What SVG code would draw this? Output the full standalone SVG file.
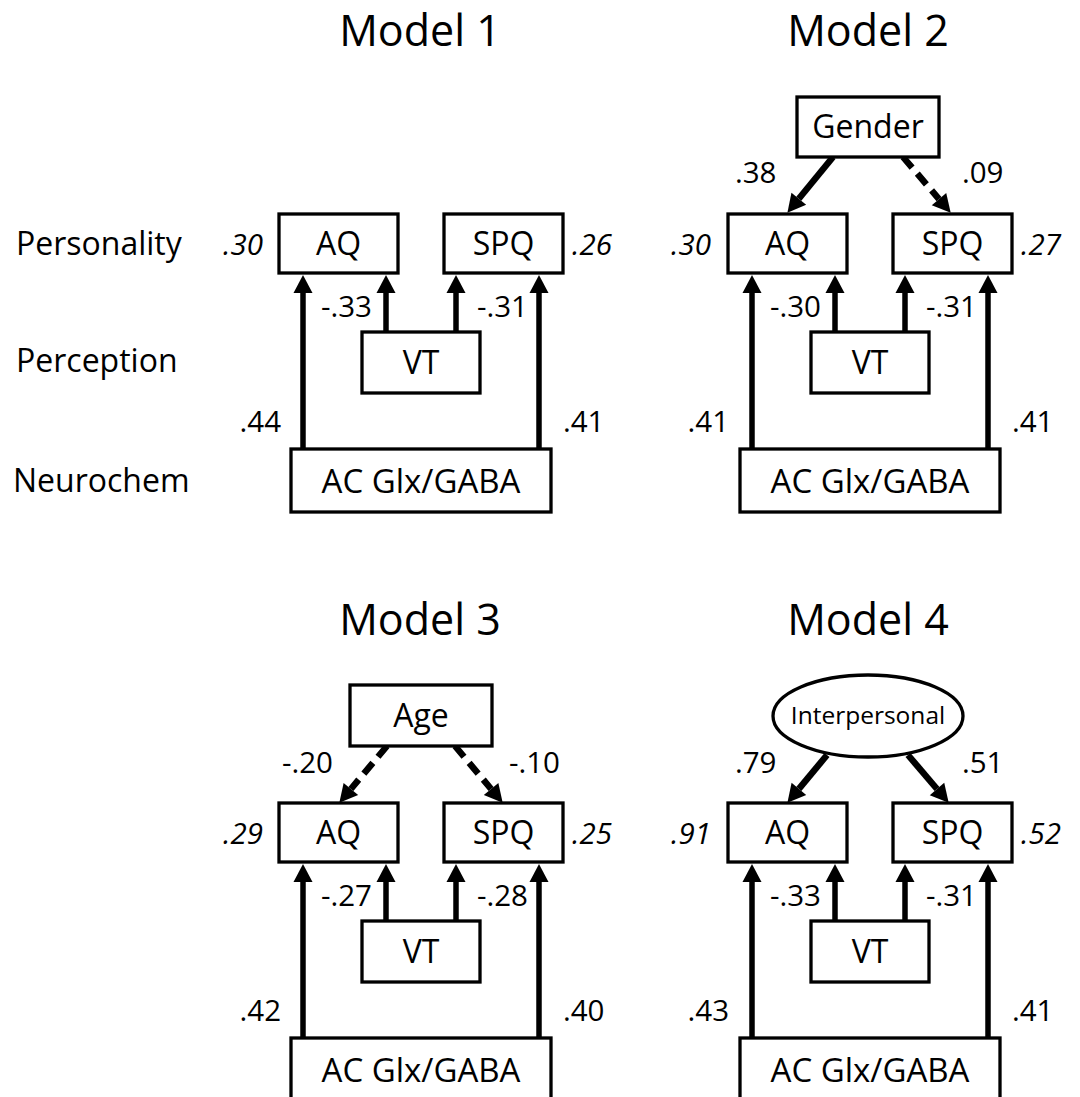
<svg xmlns="http://www.w3.org/2000/svg" width="1080" height="1097" viewBox="0 0 1080 1097">
<defs>
<style>
text{font-family:"Open Sans","Noto Sans","Liberation Sans",sans-serif;fill:#000;}
.t{font-size:43px;text-anchor:middle;}
.lab{font-size:32px;text-anchor:middle;}
.ac{font-size:33px;}
.row{font-size:32px;}
.n{font-size:29.5px;}
.r2{font-size:29.5px;font-style:italic;}
.box{fill:#fff;stroke:#000;stroke-width:3.3;}
.ar{stroke:#000;stroke-width:5.5;fill:none;marker-end:url(#ah);}
.dg{stroke-width:6.5;}
.da{stroke-dasharray:14,8;}
</style>
<marker id="ah" markerUnits="userSpaceOnUse" markerWidth="18" markerHeight="19" refX="0" refY="9.5" orient="auto" overflow="visible">
<path d="M0,0 L18,9.5 L0,19 z" fill="#000"/>
</marker>
</defs>
<rect width="1080" height="1097" fill="#fff"/>

<!-- titles and row labels -->
<text class="t" x="420" y="46">Model 1</text>
<text class="t" x="868" y="46">Model 2</text>
<text class="t" x="420" y="635">Model 3</text>
<text class="t" x="868" y="635">Model 4</text>
<text class="row" x="16" y="255">Personality</text>
<text class="row" x="16" y="372">Perception</text>
<text class="row" x="13" y="492">Neurochem</text>

<!-- connectors -->
<g id="connectors">
<!-- Model 1 -->
<line class="ar" x1="303" y1="449" x2="303" y2="293"/>
<line class="ar" x1="386" y1="332" x2="386" y2="293"/>
<line class="ar" x1="456" y1="332" x2="456" y2="293"/>
<line class="ar" x1="539" y1="449" x2="539" y2="293"/>
<!-- Model 2 -->
<line class="ar" x1="752" y1="449" x2="752" y2="293"/>
<line class="ar" x1="835" y1="332" x2="835" y2="293"/>
<line class="ar" x1="905" y1="332" x2="905" y2="293"/>
<line class="ar" x1="988" y1="449" x2="988" y2="293"/>
<line class="ar dg" x1="833" y1="157" x2="798.8" y2="198.8"/>
<line class="ar dg da" x1="903" y1="157" x2="939" y2="199.1"/>
<!-- Model 3 -->
<line class="ar" x1="303" y1="1038" x2="303" y2="882"/>
<line class="ar" x1="386" y1="921" x2="386" y2="882"/>
<line class="ar" x1="456" y1="921" x2="456" y2="882"/>
<line class="ar" x1="539" y1="1038" x2="539" y2="882"/>
<line class="ar dg da" x1="387" y1="746" x2="350.9" y2="789"/>
<line class="ar dg da" x1="455" y1="746" x2="491.1" y2="789"/>
<!-- Model 4 -->
<line class="ar" x1="752" y1="1038" x2="752" y2="882"/>
<line class="ar" x1="835" y1="921" x2="835" y2="882"/>
<line class="ar" x1="905" y1="921" x2="905" y2="882"/>
<line class="ar" x1="988" y1="1038" x2="988" y2="882"/>
<line class="ar dg" x1="827" y1="755" x2="798.9" y2="788.9"/>
<line class="ar dg" x1="908" y1="755" x2="937" y2="789"/>
</g>

<!-- Model 1 nodes -->
<g id="m1-aq"><rect class="box" x="279" y="214" width="119" height="59"/><text class="lab" x="338.5" y="255">AQ</text></g>
<g id="m1-spq"><rect class="box" x="444" y="214" width="119" height="59"/><text class="lab" x="503.5" y="255">SPQ</text></g>
<g id="m1-vt"><rect class="box" x="362" y="332" width="118" height="61"/><text class="lab" x="421" y="374">VT</text></g>
<g id="m1-ac"><rect class="box" x="291" y="449" width="260" height="63"/><text class="lab ac" x="421" y="493">AC Glx/GABA</text></g>

<!-- Model 2 nodes -->
<g id="m2-gender"><rect class="box" x="797" y="97" width="142" height="60"/><text class="lab" x="868" y="138">Gender</text></g>
<g id="m2-aq"><rect class="box" x="728" y="214" width="119" height="59"/><text class="lab" x="787.5" y="255">AQ</text></g>
<g id="m2-spq"><rect class="box" x="893" y="214" width="119" height="59"/><text class="lab" x="952.5" y="255">SPQ</text></g>
<g id="m2-vt"><rect class="box" x="811" y="332" width="118" height="61"/><text class="lab" x="870" y="374">VT</text></g>
<g id="m2-ac"><rect class="box" x="740" y="449" width="260" height="63"/><text class="lab ac" x="870" y="493">AC Glx/GABA</text></g>

<!-- Model 3 nodes -->
<g id="m3-age"><rect class="box" x="350" y="685" width="142" height="61"/><text class="lab" x="421" y="727">Age</text></g>
<g id="m3-aq"><rect class="box" x="279" y="803" width="119" height="59"/><text class="lab" x="338.5" y="844">AQ</text></g>
<g id="m3-spq"><rect class="box" x="444" y="803" width="119" height="59"/><text class="lab" x="503.5" y="844">SPQ</text></g>
<g id="m3-vt"><rect class="box" x="362" y="921" width="118" height="61"/><text class="lab" x="421" y="963">VT</text></g>
<g id="m3-ac"><rect class="box" x="291" y="1038" width="260" height="63"/><text class="lab ac" x="421" y="1082">AC Glx/GABA</text></g>

<!-- Model 4 nodes -->
<g id="m4-interpersonal"><ellipse cx="868" cy="716" rx="95" ry="41" fill="#fff" stroke="#000" stroke-width="3.3"/><text x="868" y="724" style="font-size:24.5px;text-anchor:middle">Interpersonal</text></g>
<g id="m4-aq"><rect class="box" x="728" y="803" width="119" height="59"/><text class="lab" x="787.5" y="844">AQ</text></g>
<g id="m4-spq"><rect class="box" x="893" y="803" width="119" height="59"/><text class="lab" x="952.5" y="844">SPQ</text></g>
<g id="m4-vt"><rect class="box" x="811" y="921" width="118" height="61"/><text class="lab" x="870" y="963">VT</text></g>
<g id="m4-ac"><rect class="box" x="740" y="1038" width="260" height="63"/><text class="lab ac" x="870" y="1082">AC Glx/GABA</text></g>

<!-- Model 1 labels -->
<g id="m1-labels">
<text class="r2" x="263" y="255" text-anchor="end">.30</text>
<text class="r2" x="572" y="255">.26</text>
<text class="n" x="321" y="317">-.33</text>
<text class="n" x="477" y="317">-.31</text>
<text class="n" x="281" y="432" text-anchor="end">.44</text>
<text class="n" x="563" y="432">.41</text>
</g>
<!-- Model 2 labels -->
<g id="m2-labels">
<text class="n" x="735" y="183">.38</text>
<text class="n" x="962" y="183">.09</text>
<text class="r2" x="711" y="255" text-anchor="end">.30</text>
<text class="r2" x="1021" y="255">.27</text>
<text class="n" x="770" y="317">-.30</text>
<text class="n" x="926" y="317">-.31</text>
<text class="n" x="729" y="432" text-anchor="end">.41</text>
<text class="n" x="1012" y="432">.41</text>
</g>
<!-- Model 3 labels -->
<g id="m3-labels">
<text class="n" x="282" y="773">-.20</text>
<text class="n" x="509" y="773">-.10</text>
<text class="r2" x="263" y="844" text-anchor="end">.29</text>
<text class="r2" x="572" y="844">.25</text>
<text class="n" x="321" y="906">-.27</text>
<text class="n" x="477" y="906">-.28</text>
<text class="n" x="281" y="1021" text-anchor="end">.42</text>
<text class="n" x="563" y="1021">.40</text>
</g>
<!-- Model 4 labels -->
<g id="m4-labels">
<text class="n" x="735" y="773">.79</text>
<text class="n" x="962" y="773">.51</text>
<text class="r2" x="711" y="844" text-anchor="end">.91</text>
<text class="r2" x="1021" y="844">.52</text>
<text class="n" x="770" y="906">-.33</text>
<text class="n" x="926" y="906">-.31</text>
<text class="n" x="729" y="1021" text-anchor="end">.43</text>
<text class="n" x="1012" y="1021">.41</text>
</g>
</svg>
